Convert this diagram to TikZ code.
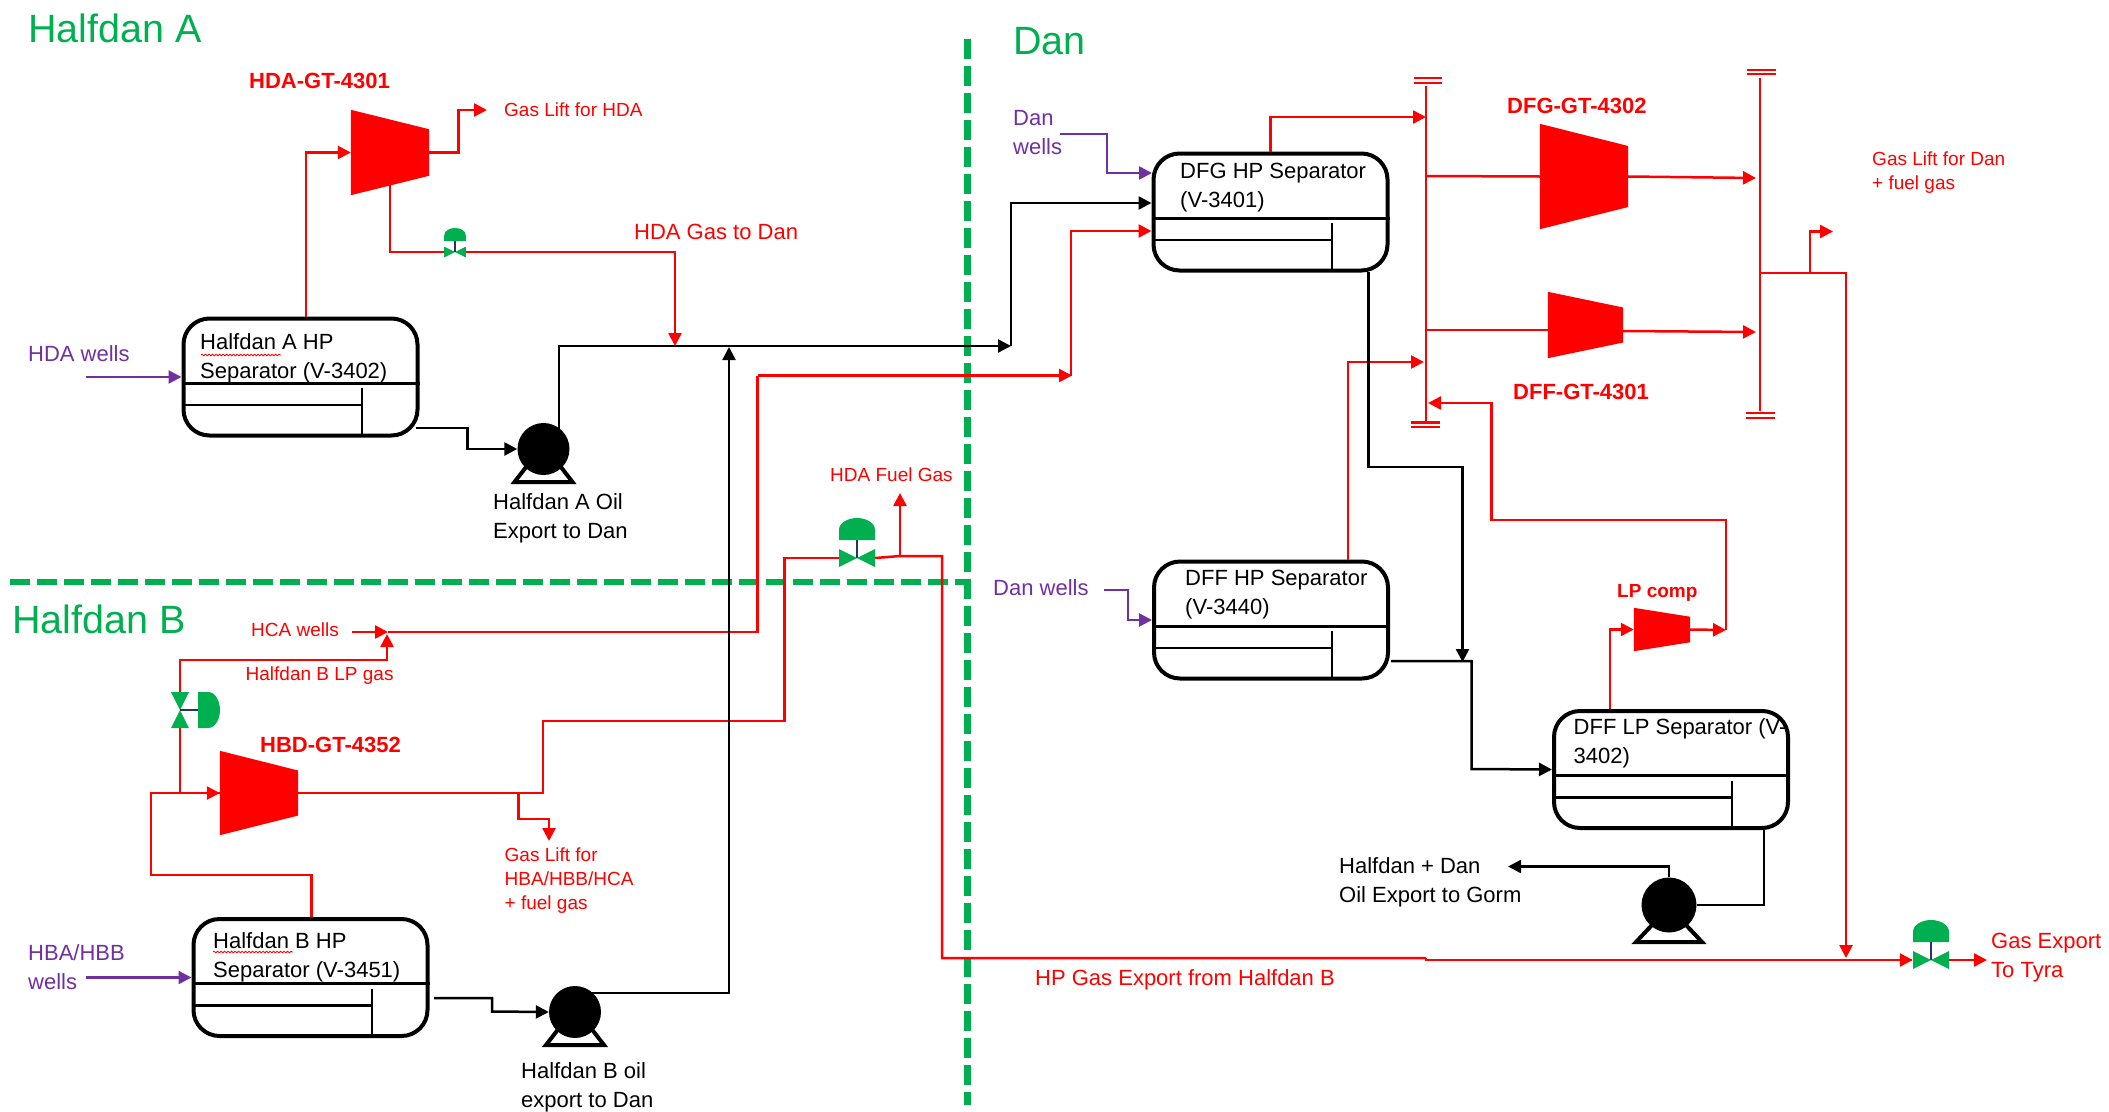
\documentclass[tikz,border=0pt]{standalone}
\usepackage{fontspec}
\setmainfont{Liberation Sans}
\usetikzlibrary{arrows.meta, calc, decorations.pathmorphing}
\definecolor{ZoneGreen}{HTML}{00B050}
\definecolor{GasRed}{HTML}{FF0000}
\definecolor{WellPurple}{HTML}{7030A0}
\definecolor{StemBlue}{HTML}{1F3864}

\begin{document}
\begin{tikzpicture}[
        x=1pt, y=-1pt,
        sepbox/.style={rectangle, draw=black, line width=4pt, rounded corners=26pt, minimum width=234pt, minimum height=117pt, inner sep=0pt},
        compbox/.style={rectangle, inner sep=0pt},
        pumpbody/.style={circle, fill=black, inner sep=0pt},
        valvebox/.style={rectangle, minimum width=36pt, minimum height=18pt, inner sep=0pt, transform shape},
        headerbar/.style={rectangle, draw=GasRed, line width=2.5pt, minimum width=0pt, inner sep=0pt},
        gasline/.style={draw=GasRed, line width=2.5pt, -{Triangle[length=13pt,width=13pt]}},
        gaspipe/.style={draw=GasRed, line width=2.5pt},
        oilline/.style={draw=black, line width=2.5pt, -{Triangle[length=13pt,width=13pt]}},
        oilpipe/.style={draw=black, line width=2.5pt},
        wellline/.style={draw=WellPurple, line width=2.5pt, -{Triangle[length=13pt,width=13pt]}},
        zoneline/.style={draw=ZoneGreen, line width=6.5pt, dash pattern=on 20pt off 7pt},
        lbl/.style={anchor=west, inner sep=0pt, align=left},
        blacktext/.style={lbl, font=\fontsize{22}{29}\selectfont},
        welltext/.style={lbl, text=WellPurple, font=\fontsize{22}{29}\selectfont},
        redtext/.style={lbl, text=GasRed, font=\fontsize{22}{29}\selectfont},
        redsmall/.style={lbl, text=GasRed, font=\fontsize{19}{24}\selectfont},
        redbold/.style={lbl, text=GasRed, font=\fontsize{22}{29}\selectfont\bfseries},
        zonetext/.style={lbl, text=ZoneGreen, font=\fontsize{39.5}{48}\selectfont},
        spellmark/.style={draw=GasRed, line width=0.8pt, decorate, decoration={snake, amplitude=0.8pt, segment length=3.5pt}}
    ]
        \useasboundingbox (0,0) rectangle (2109,1111);

        % Zone borders
        \coordinate (zonewest) at (10,582);
        \coordinate (zoneeast) at (968,582);
        \coordinate (zonetop) at (967.5,39);
        \coordinate (zonebottom) at (967.5,1105);
        \draw [zoneline] (zonewest) -- (zoneeast);
        \draw [zoneline] (zonetop) -- (zonebottom);

        % Separators
        \foreach \name/\x/\y in {hdasep/300.5/377, hbdsep/310.5/977.5, dfgsep/1270.5/212, dffsep/1271/620, lpsep/1671/769.5}
        {
            \node (\name) [sepbox] at (\x,\y) {};
            \draw [line width=3pt] ($(\name.west)+(0,6)$) -- ($(\name.east)+(0,6)$);
            \draw [line width=2.5pt] ($(\name.west)+(0,28)$) -- ($(\name.west)+(180,28)$);
            \draw [line width=2pt] ($(\name.west)+(180,11)$) -- ($(\name.west)+(180,58)$);
        }

        % Compressors
        \foreach \name/\x/\y/\w/\hl/\hr in {hdacomp/390/152.5/78/85/46.5, hbdcomp/259/793/78/84/45, dfgcomp/1584/176.5/88/105/61, dffcomp/1585.5/325/75/66/35, lpcomp/1662/629.5/56/43/25.5}
        {
            \node (\name) [compbox, minimum width=\w pt, minimum height=\hl pt] at (\x,\y) {};
            \fill [GasRed] (\name.north west) -- ($(\name.east)+(0,-\hr/2)$) -- ($(\name.east)+(0,\hr/2)$) -- (\name.south west) -- cycle;
        }

        % Pumps
        \foreach \name/\x/\y/\w/\h/\b in {hdapump/543.5/449/52/51/31, hbdpump/575/1012/52/51/31, gormpump/1669/905/55/56/35}
        {
            \node (\name) [pumpbody, minimum size=\w pt] at (\x,\y) {};
            \begin{scope}[shift={(\x,\y)}]
                \draw [line width=4pt] (-17,\h/2-8) -- (-\b+2,\b+2) -- (\b-2,\b+2) -- (17,\h/2-8);
            \end{scope}
        }

        % Valves
        \foreach \name/\x/\y/\s/\r in {hdavalve/455/252/0.6/0, fuelvalve/857/558/1/0, lpvalve/180/710/1/-90, exportvalve/1931/960/1/0}
        {
            \begin{scope}[shift={(\x,\y)}, rotate=\r, scale=\s]
                \node (\name) [valvebox] at (0,0) {};
                \fill [ZoneGreen] (-18,-9) -- (0,0) -- (-18,9) -- cycle;
                \fill [ZoneGreen] (18,-9) -- (0,0) -- (18,9) -- cycle;
                \draw [StemBlue, line width=2pt] (0,0) -- (0,-18);
                \fill [ZoneGreen] (-18,-18) -- (-18,-28) .. controls (-18,-36) and (-8,-40) .. (0,-40) .. controls (8,-40) and (18,-36) .. (18,-28) -- (18,-18) -- cycle;
            \end{scope}
        }

        % Headers
        \node (inhdr) [headerbar, minimum height=335pt] at (1426,253.5) {};
        \node (outhdr) [headerbar, minimum height=333pt] at (1760,244.5) {};
        \foreach \a/\b/\y in {1414/1442/78, 1414/1442/83, 1411/1440/422.5, 1411/1440/427, 1747/1776/70, 1747/1776/74, 1746/1775/413, 1746/1775/418}
        {
            \draw [gaspipe] (\a,\y) -- (\b,\y);
        }

        % Junctions and free ends
        \coordinate (hdalift) at (487,110);
        \coordinate (hdajoin) at (675,346);
        \coordinate (oilhub) at (1011,346);
        \coordinate (hbdjoin) at (729,347);
        \coordinate (hcastart) at (352,632);
        \coordinate (hcahub) at (388,632);
        \coordinate (hcacorner) at (757.5,375.5);
        \coordinate (hcaend) at (1072,375.5);
        \coordinate (fuelhub) at (900,556);
        \coordinate (fuelend) at (900,493);
        \coordinate (exportcorner) at (942,556);
        \coordinate (exportstep) at (1426,958);
        \coordinate (liftbranch) at (518.5,794);
        \coordinate (liftend) at (549,841);
        \coordinate (towersplit) at (1760,273);
        \coordinate (danlift) at (1833,231.5);
        \coordinate (danexport) at (1846,958);
        \coordinate (tyraend) at (1987,960);
        \coordinate (lpreturn) at (1726,630);
        \coordinate (gormend) at (1508,866.5);

        % Gas connectors
        \draw [gasline] ([xshift=5.5pt]hdasep.north) |- (hdacomp.west);
        \draw [gasline] (hdacomp.east) -- (458.5,152.5) |- (hdalift);
        \draw [gaspipe] (hdacomp.center) |- (hdavalve.west);
        \draw [gasline] (hdavalve.east) -| (hdajoin);
        \draw [gasline] (hcastart) -- (hcahub);
        \draw [gaspipe] (hcahub) -| (hcacorner);
        \draw [gasline] (hcacorner) -- (hcaend);
        \draw [gasline] (1071,375.5) |- ([yshift=-19pt]dfgsep.west);
        \draw [gaspipe] (hbdcomp.east) -| (543,721) -| (784.5,558) -- (fuelvalve.west);
        \draw [gaspipe] ([xshift=1pt]hbdsep.north) |- (151,875) |- (hbdcomp.west);
        \draw [gasline] (151,793) -- (hbdcomp.west);
        \draw [gaspipe] (lpvalve.east) -- (180,793);
        \draw [gasline] (lpvalve.west) |- (387,660) -- (387,634);
        \draw [gaspipe] (fuelvalve.east) -- (fuelhub) -- (exportcorner) |- (exportstep);
        \draw [gasline] (fuelhub) -- (fuelend);
        \draw [gaspipe] (exportstep) -- (1426,960) -- (1912,960);
        \draw [gasline] (liftbranch) |- (549,819) -- (liftend);
        \draw [gasline] (exportvalve.east) -- (tyraend);
        \draw [gasline] (1800,960) -- (exportvalve.west);
        \draw [gasline] (dfgsep.north) |- (1426,117);
        \draw [gaspipe] (1426,176) -- (dfgcomp.west);
        \draw [gasline] (dfgcomp.east) -- (1756,178);
        \draw [gaspipe] (1426,330) -- (1549,330);
        \draw [gasline] (1622,331) -- (1756,332);
        \draw [gasline] ([xshift=77pt]dffsep.north) |- (1424,362);
        \draw [gasline] (lpcomp.east) -- (lpreturn);
        \draw [gasline] (lpreturn) |- (1491.5,520) |- (1428,403);
        \draw [gasline] ([xshift=-61pt]lpsep.north) |- (lpcomp.west);
        \draw [gasline] (towersplit) -- (1810,273) |- (danlift);
        \draw [gasline] (towersplit) -| (danexport);

        % Oil connectors
        \draw [oilline] ([xshift=-4pt,yshift=-51pt]hdasep.east) -| (467.5,449) -- (hdapump.west);
        \draw [oilline] (559,430) |- (oilhub);
        \draw [oilline] (oilhub) |- ([yshift=9pt]dfgsep.west);
        \draw [oilline] (591,993) -| (hbdjoin);
        \draw [oilline] (434,998) -| (492,1011.5) -- (hbdpump.west);
        \draw [oilline] (1368.5,272) |- (1462.5,467) -- (1462.5,662);
        \draw [oilline] (1391,661) -| (1471.5,769) -- (lpsep.west);
        \draw [oilpipe] (1764,830) |- (gormpump.east);
        \draw [oilline] (gormpump.north) |- (gormend);

        % Well connectors
        \draw [wellline] (86,377) -- (hdasep.west);
        \draw [wellline] (86,977.5) -- (hbdsep.west);
        \draw [wellline] (1060,134) -| (1107,173) -- (1152,173);
        \draw [wellline] (1104,590) -| (1128,620) -- (dffsep.west);

        % Labels
        \node (zonea) [zonetext] at (28,28) {Halfdan A};
        \node (zoneb) [zonetext] at (12,619) {Halfdan B};
        \node (zonedan) [zonetext] at (1013,41) {Dan};
        \node (hdasepname) [blacktext] at (200,358.5) {Halfdan A HP\\Separator (V-3402)};
        \node (hbdsepname) [blacktext] at (213,957.5) {Halfdan B HP\\Separator (V-3451)};
        \node (dfgsepname) [blacktext] at (1180,187.5) {DFG HP Separator\\(V-3401)};
        \node (dffsepname) [blacktext] at (1185,594.5) {DFF HP Separator\\(V-3440)};
        \node (lpsepname) [blacktext] at (1573.5,743) {DFF LP Separator (V-\\3402)};
        \node (hdapumpname) [blacktext] at (493,518) {Halfdan A Oil\\Export to Dan};
        \node (hbdpumpname) [blacktext] at (521,1087) {Halfdan B oil\\export to Dan};
        \node (gormname) [blacktext] at (1339,882) {Halfdan + Dan\\Oil Export to Gorm};
        \node (hdawells) [welltext] at (28,354) {HDA wells};
        \node (hbdwells) [welltext] at (28,967) {HBA/HBB\\wells};
        \node (dfgwells) [welltext] at (1013,132.5) {Dan\\wells};
        \node (dffwells) [welltext] at (993,588) {Dan wells};
        \node (hdagt) [redbold] at (249,81) {HDA-GT-4301};
        \node (hbdgt) [redbold] at (260,745) {HBD-GT-4352};
        \node (dfggt) [redbold] at (1507,106) {DFG-GT-4302};
        \node (dffgt) [redbold] at (1513,392) {DFF-GT-4301};
        \node (lpgt) [redsmall, font=\fontsize{19}{24}\selectfont\bfseries] at (1617,593) {LP comp};
        \node (hdaliftname) [redsmall] at (504,110) {Gas Lift for HDA};
        \node (hdagasname) [redtext] at (634,232) {HDA Gas to Dan};
        \node (fuelname) [redsmall] at (830,475) {HDA Fuel Gas};
        \node (hcaname) [redsmall] at (251,630) {HCA wells};
        \node (lpgasname) [redsmall] at (245.5,676) {Halfdan B LP gas};
        \node (hbdliftname) [redsmall] at (504.5,880.5) {Gas Lift for\\HBA/HBB/HCA\\+ fuel gas};
        \node (danliftname) [redsmall] at (1872,172.5) {Gas Lift for Dan\\+ fuel gas};
        \node (hpname) [redtext] at (1035,979.5) {HP Gas Export from Halfdan B};
        \node (tyraname) [redtext] at (1991,958) {Gas Export\\To Tyra};

        % Spelling marks
        \draw [spellmark] (201,355) -- (281,355);
        \draw [spellmark] (213,952) -- (293,952);
    \end{tikzpicture}
\end{document}
